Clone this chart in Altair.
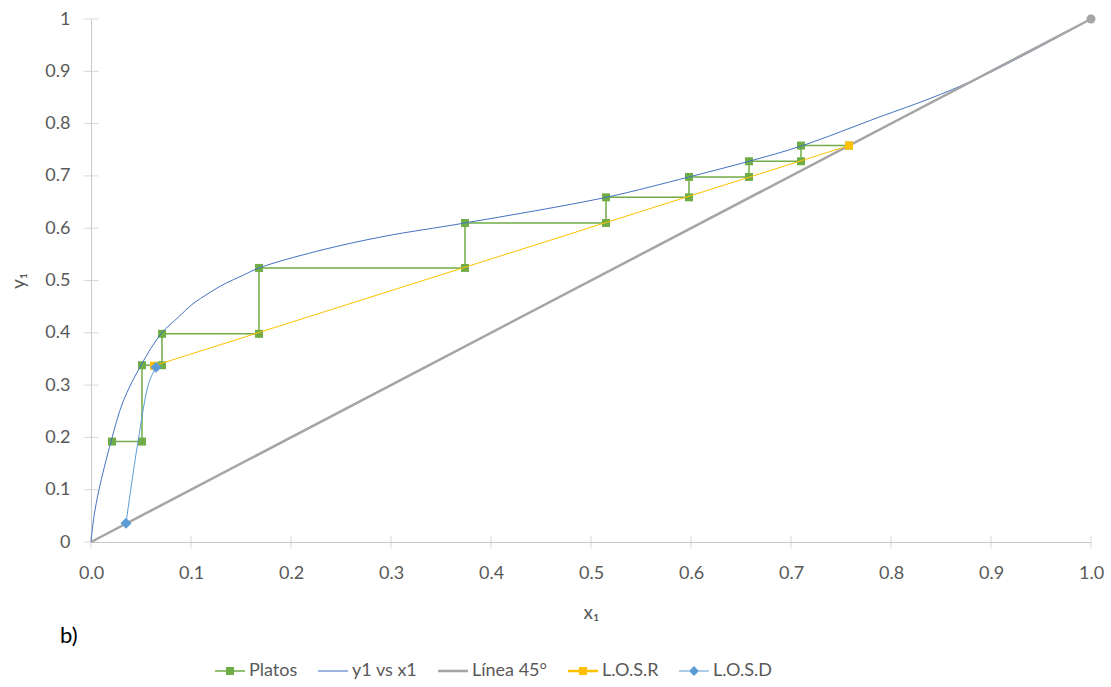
import altair as alt
import pandas as pd

# ---------------- data ----------------
series = ["Platos", "y1 vs x1", "Línea 45°", "L.O.S.R", "L.O.S.D"]
colors = ["#70AD47", "#4472C4", "#A5A5A5", "#FFC000", "#5B9BD5"]

platos_x = [0.758, 0.710, 0.710, 0.658, 0.658, 0.598, 0.598, 0.515, 0.515,
            0.374, 0.374, 0.168, 0.168, 0.071, 0.071, 0.051, 0.051, 0.021]
platos_y = [0.758, 0.758, 0.728, 0.728, 0.698, 0.698, 0.659, 0.659, 0.610,
            0.610, 0.524, 0.524, 0.398, 0.398, 0.338, 0.338, 0.192, 0.192]

eq_x = [0.0, 0.003, 0.008, 0.020, 0.032, 0.050, 0.070, 0.088, 0.101, 0.118,
        0.134, 0.151, 0.168, 0.226, 0.292, 0.374, 0.515, 0.598, 0.658, 0.710,
        0.789, 0.839, 0.885, 0.940, 1.0]
eq_y = [0.0, 0.049, 0.100, 0.192, 0.268, 0.338, 0.398, 0.431, 0.454, 0.476,
        0.494, 0.509, 0.524, 0.556, 0.584, 0.610, 0.659, 0.698, 0.728, 0.757,
        0.813, 0.848, 0.885, 0.938, 1.0]

diag_x = [0.0, 1.0]
diag_y = [0.0, 1.0]
diag_mark_x = [1.0]
diag_mark_y = [1.0]

losr_x = [0.063, 0.758]
losr_y = [0.337, 0.758]

losd_x = [0.035, 0.047, 0.058, 0.065]
losd_y = [0.036, 0.192, 0.305, 0.334]
losd_mark_x = [0.035, 0.065]
losd_mark_y = [0.036, 0.334]

x_ticks = [0.0, 0.1, 0.2, 0.3, 0.4, 0.5, 0.6, 0.7, 0.8, 0.9, 1.0]
y_ticks = [0.0, 0.1, 0.2, 0.3, 0.4, 0.5, 0.6, 0.7, 0.8, 0.9, 1.0]

# legend symbol paths (line + marker), unit coords
legend_paths = [
    "M-1,-0.05H1V0.05H-1Z M-0.27,-0.27H0.27V0.27H-0.27Z",
    "M-1,-0.035H1V0.035H-1Z",
    "M-1,-0.085H1V0.085H-1Z",
    "M-1,-0.08H1V0.08H-1Z M-0.27,-0.27H0.27V0.27H-0.27Z",
    "M-1,-0.035H1V0.035H-1Z M0,-0.33L0.33,0L0,0.33L-0.33,0Z",
]

FONT = "Lato"
GREY_TXT = "#595959"
AXIS_COL = "#C9C9C9"

xs = alt.Scale(domain=[0, 1], nice=False, zero=False)
ys = alt.Scale(domain=[0, 1], nice=False, zero=False)

X = alt.X("x:Q", scale=xs, axis=alt.Axis(
    values=x_ticks, format=".1f", tickSize=0, grid=False, labelFlush=False,
    domainColor=AXIS_COL, domainWidth=1,
    labelColor=GREY_TXT, labelFont=FONT, labelFontSize=18, labelPadding=22,
    title="x₁", titleColor=GREY_TXT, titleFont=FONT, titleFontSize=19,
    titleFontWeight="normal", titleY=70, titleBaseline="middle"))
Y = alt.Y("y:Q", scale=ys, axis=alt.Axis(
    values=y_ticks, format=".1~f", tickSize=0, grid=False, labelFlush=False,
    domainColor=AXIS_COL, domainWidth=1,
    labelColor=GREY_TXT, labelFont=FONT, labelFontSize=18, labelPadding=21,
    title="y₁", titleColor=GREY_TXT, titleFont=FONT, titleFontSize=19,
    titleFontWeight="normal", titleX=-73, titleY=261.5,
    titleBaseline="middle", titleAlign="center", titleAngle=-90))


def df_of(xv, yv):
    return pd.DataFrame({"x": xv, "y": yv, "i": list(range(len(xv)))})


def line(xv, yv, color, width, interp="linear"):
    return alt.Chart(df_of(xv, yv)).mark_line(
        color=color, strokeWidth=width, interpolate=interp
    ).encode(x=X, y=Y, order="i:Q")


def pts(xv, yv, color, shape, size):
    return alt.Chart(df_of(xv, yv)).mark_point(
        shape=shape, filled=True, size=size, color=color, opacity=1
    ).encode(x=X, y=Y)


xtick_layer = alt.Chart(pd.DataFrame({"x": x_ticks, "y": [0.0] * len(x_ticks)})).mark_tick(
    orient="vertical", size=13, thickness=1, color=AXIS_COL
).encode(x=X, y=Y)
ytick_layer = alt.Chart(pd.DataFrame({"x": [0.0] * len(y_ticks), "y": y_ticks})).mark_tick(
    orient="horizontal", size=15, thickness=1, color=AXIS_COL
).encode(x=X, y=Y)

leg = alt.Legend(
    title=None, orient="none", direction="horizontal", legendX=124, legendY=637,
    labelFont=FONT, labelFontSize=18, labelColor=GREY_TXT, labelOffset=4,
    columnPadding=20, symbolSize=900, symbolStrokeWidth=0,
)
legend_layer = alt.Chart(pd.DataFrame({"series": series, "x": [0.0] * 5, "y": [0.0] * 5})).mark_point(
    filled=True, opacity=1
).transform_filter("false").encode(
    x=X, y=Y,
    color=alt.Color("series:N", scale=alt.Scale(domain=series, range=colors), legend=leg),
    shape=alt.Shape("series:N", scale=alt.Scale(domain=series, range=legend_paths), legend=leg),
)

chart = alt.layer(
    xtick_layer,
    ytick_layer,
    line(platos_x, platos_y, colors[0], 1.5),
    pts(platos_x, platos_y, colors[0], "square", 64),
    line(eq_x, eq_y, colors[1], 1, "catmull-rom"),
    line(diag_x, diag_y, colors[2], 2.5),
    pts(diag_mark_x, diag_mark_y, colors[2], "circle", 81),
    line(losr_x, losr_y, colors[3], 1),
    pts(losr_x, losr_y, colors[3], "square", 64),
    line(losd_x, losd_y, colors[4], 1, "catmull-rom"),
    pts(losd_mark_x, losd_mark_y, colors[4], "diamond", 121),
    legend_layer,
).properties(
    width=1000, height=523,
    autosize=alt.AutoSizeParams(type="none"),
    padding={"left": 91, "top": 19, "right": 20, "bottom": 145},
    title=alt.TitleParams("b)", orient="bottom", anchor="start", frame="group",
                          font=FONT, fontSize=22, fontWeight="normal", color="black",
                          dx=-31, offset=-54),
    background="white",
).configure_view(strokeWidth=0)

chart.save("out.html", embed_options={"renderer": "svg", "actions": False})
